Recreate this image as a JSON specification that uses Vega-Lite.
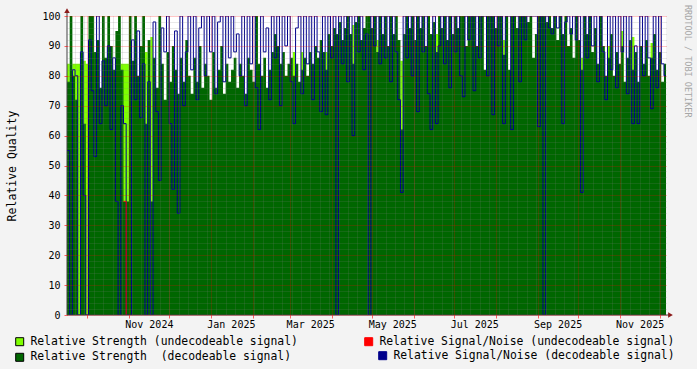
{
"$schema":"https://vega.github.io/schema/vega-lite/v6.json",
"width":599,"height":299,
"autosize":{"type":"none"},
"padding":{"left":67,"top":16,"right":31,"bottom":54},
"background":"#F3F3F3",
"config":{"view":{"fill":"#FFFFFF","stroke":null},"font":"DejaVu Sans Mono"},
"title":{"text":"RRDTOOL / TOBI OETIKER","orient":"right","anchor":"start","frame":"group","offset":4,"font":"DejaVu Sans Mono","fontSize":8.5,"fontWeight":"normal","color":"#A6A6A6","dx":-11},
"data":{"values":[
{"t":"2024-09-16","g":78,"u":84,"s":55},
{"t":"2024-09-18","g":100,"u":0,"s":0},
{"t":"2024-09-20","g":80,"u":84,"s":82},
{"t":"2024-09-22","g":72,"u":84,"s":80},
{"t":"2024-09-24","g":0,"u":84,"s":0},
{"t":"2024-09-26","g":100,"u":0,"s":88},
{"t":"2024-09-28","g":64,"u":85,"s":40},
{"t":"2024-09-30","g":0,"u":84,"s":0},
{"t":"2024-10-02","g":100,"u":0,"s":92},
{"t":"2024-10-04","g":100,"u":0,"s":75},
{"t":"2024-10-06","g":88,"u":0,"s":53},
{"t":"2024-10-08","g":92,"u":0,"s":100},
{"t":"2024-10-10","g":76,"u":0,"s":64},
{"t":"2024-10-12","g":100,"u":0,"s":85},
{"t":"2024-10-14","g":86,"u":0,"s":70},
{"t":"2024-10-16","g":100,"u":0,"s":90},
{"t":"2024-10-18","g":90,"u":0,"s":62},
{"t":"2024-10-20","g":82,"u":0,"s":86},
{"t":"2024-10-22","g":95,"u":0,"s":38},
{"t":"2024-10-24","g":100,"u":0,"s":0},
{"t":"2024-10-26","g":82,"u":84,"s":70},
{"t":"2024-10-28","g":38,"u":84,"s":64,"r":38},
{"t":"2024-10-30","g":38,"u":84,"s":0,"r":0},
{"t":"2024-11-01","g":100,"u":0,"s":0},
{"t":"2024-11-03","g":85,"u":0,"s":92},
{"t":"2024-11-05","g":100,"u":0,"s":72},
{"t":"2024-11-07","g":80,"u":0,"s":95},
{"t":"2024-11-09","g":90,"u":0,"s":66},
{"t":"2024-11-11","g":100,"u":0,"s":84},
{"t":"2024-11-13","g":64,"u":88,"s":0},
{"t":"2024-11-15","g":92,"u":0,"s":78},
{"t":"2024-11-17","g":38,"u":93,"s":0},
{"t":"2024-11-19","g":86,"u":0,"s":98},
{"t":"2024-11-21","g":76,"u":0,"s":68},
{"t":"2024-11-23","g":100,"u":0,"s":45},
{"t":"2024-11-25","g":84,"u":0,"s":96},
{"t":"2024-11-27","g":72,"u":0,"s":88},
{"t":"2024-11-29","g":88,"u":0,"s":100},
{"t":"2024-12-01","g":78,"u":0,"s":64},
{"t":"2024-12-03","g":90,"u":0,"s":42},
{"t":"2024-12-05","g":82,"u":0,"s":95},
{"t":"2024-12-07","g":74,"u":0,"s":34},
{"t":"2024-12-09","g":86,"u":0,"s":100},
{"t":"2024-12-11","g":78,"u":0,"s":70},
{"t":"2024-12-13","g":92,"u":0,"s":88},
{"t":"2024-12-15","g":80,"u":0,"s":100},
{"t":"2024-12-17","g":74,"u":0,"s":82},
{"t":"2024-12-19","g":86,"u":0,"s":100},
{"t":"2024-12-21","g":78,"u":0,"s":72},
{"t":"2024-12-23","g":90,"u":0,"s":96},
{"t":"2024-12-25","g":76,"u":0,"s":100},
{"t":"2024-12-27","g":84,"u":0,"s":80},
{"t":"2024-12-29","g":80,"u":0,"s":100},
{"t":"2024-12-31","g":72,"u":0,"s":88},
{"t":"2025-01-02","g":88,"u":0,"s":100},
{"t":"2025-01-04","g":76,"u":0,"s":74},
{"t":"2025-01-06","g":82,"u":0,"s":98},
{"t":"2025-01-08","g":90,"u":0,"s":100},
{"t":"2025-01-10","g":74,"u":0,"s":78},
{"t":"2025-01-12","g":84,"u":0,"s":100},
{"t":"2025-01-14","g":78,"u":0,"s":86},
{"t":"2025-01-16","g":82,"u":0,"s":100},
{"t":"2025-01-18","g":86,"u":0,"s":88},
{"t":"2025-01-20","g":76,"u":0,"s":94},
{"t":"2025-01-22","g":84,"u":0,"s":80},
{"t":"2025-01-24","g":80,"u":0,"s":100},
{"t":"2025-01-26","g":74,"u":0,"s":70},
{"t":"2025-01-28","g":86,"u":0,"s":100},
{"t":"2025-01-30","g":82,"u":0,"s":84},
{"t":"2025-02-01","g":78,"u":0,"s":100},
{"t":"2025-02-03","g":100,"u":0,"s":76},
{"t":"2025-02-05","g":84,"u":0,"s":62},
{"t":"2025-02-07","g":80,"u":0,"s":100},
{"t":"2025-02-09","g":86,"u":0,"s":88},
{"t":"2025-02-11","g":76,"u":0,"s":96},
{"t":"2025-02-13","g":82,"u":0,"s":72},
{"t":"2025-02-15","g":88,"u":0,"s":100},
{"t":"2025-02-17","g":94,"u":0,"s":86},
{"t":"2025-02-19","g":90,"u":0,"s":100},
{"t":"2025-02-21","g":84,"u":0,"s":70},
{"t":"2025-02-23","g":88,"u":0,"s":100},
{"t":"2025-02-25","g":80,"u":0,"s":90},
{"t":"2025-02-27","g":84,"u":0,"s":100},
{"t":"2025-03-01","g":86,"u":0,"s":78},
{"t":"2025-03-03","g":80,"u":88,"s":64},
{"t":"2025-03-05","g":84,"u":0,"s":96},
{"t":"2025-03-07","g":78,"u":0,"s":100},
{"t":"2025-03-09","g":82,"u":88,"s":74},
{"t":"2025-03-11","g":86,"u":0,"s":100},
{"t":"2025-03-13","g":80,"u":0,"s":84},
{"t":"2025-03-15","g":88,"u":0,"s":100},
{"t":"2025-03-17","g":84,"u":0,"s":72},
{"t":"2025-03-19","g":90,"u":0,"s":100},
{"t":"2025-03-21","g":86,"u":0,"s":88},
{"t":"2025-03-23","g":92,"u":0,"s":68},
{"t":"2025-03-25","g":88,"u":0,"s":100},
{"t":"2025-03-27","g":82,"u":88,"s":67},
{"t":"2025-03-29","g":94,"u":0,"s":100},
{"t":"2025-03-31","g":90,"u":0,"s":86},
{"t":"2025-04-02","g":96,"u":0,"s":100},
{"t":"2025-04-04","g":94,"u":0,"s":0},
{"t":"2025-04-06","g":98,"u":0,"s":100},
{"t":"2025-04-08","g":92,"u":0,"s":84},
{"t":"2025-04-10","g":96,"u":0,"s":100},
{"t":"2025-04-12","g":100,"u":0,"s":78},
{"t":"2025-04-14","g":94,"u":0,"s":100},
{"t":"2025-04-16","g":84,"u":97,"s":60},
{"t":"2025-04-18","g":98,"u":0,"s":100},
{"t":"2025-04-20","g":100,"u":0,"s":88},
{"t":"2025-04-22","g":92,"u":0,"s":100},
{"t":"2025-04-24","g":96,"u":0,"s":82},
{"t":"2025-04-26","g":100,"u":0,"s":94},
{"t":"2025-04-28","g":100,"u":0,"s":0},
{"t":"2025-04-30","g":96,"u":0,"s":100},
{"t":"2025-05-02","g":100,"u":0,"s":90},
{"t":"2025-05-04","g":88,"u":92,"s":100},
{"t":"2025-05-06","g":100,"u":0,"s":84},
{"t":"2025-05-08","g":94,"u":0,"s":100},
{"t":"2025-05-10","g":100,"u":0,"s":86},
{"t":"2025-05-12","g":90,"u":0,"s":100},
{"t":"2025-05-14","g":100,"u":0,"s":78},
{"t":"2025-05-16","g":94,"u":0,"s":100},
{"t":"2025-05-18","g":100,"u":0,"s":88},
{"t":"2025-05-20","g":92,"u":0,"s":72},
{"t":"2025-05-22","g":62,"u":85,"s":41},
{"t":"2025-05-24","g":94,"u":0,"s":100},
{"t":"2025-05-26","g":100,"u":0,"s":86},
{"t":"2025-05-28","g":96,"u":0,"s":100},
{"t":"2025-05-30","g":100,"u":0,"s":80},
{"t":"2025-06-01","g":92,"u":0,"s":100},
{"t":"2025-06-03","g":100,"u":0,"s":68},
{"t":"2025-06-05","g":96,"u":0,"s":100},
{"t":"2025-06-07","g":100,"u":0,"s":88},
{"t":"2025-06-09","g":90,"u":0,"s":100},
{"t":"2025-06-11","g":100,"u":0,"s":74},
{"t":"2025-06-13","g":94,"u":0,"s":62},
{"t":"2025-06-15","g":98,"u":0,"s":100},
{"t":"2025-06-17","g":88,"u":94,"s":64},
{"t":"2025-06-19","g":100,"u":0,"s":90},
{"t":"2025-06-21","g":96,"u":0,"s":100},
{"t":"2025-06-23","g":100,"u":0,"s":84},
{"t":"2025-06-25","g":92,"u":0,"s":100},
{"t":"2025-06-27","g":100,"u":0,"s":76},
{"t":"2025-06-29","g":94,"u":0,"s":100},
{"t":"2025-07-01","g":100,"u":0,"s":88},
{"t":"2025-07-03","g":96,"u":0,"s":100},
{"t":"2025-07-05","g":100,"u":0,"s":80},
{"t":"2025-07-07","g":100,"u":0,"s":73},
{"t":"2025-07-09","g":90,"u":0,"s":100},
{"t":"2025-07-11","g":100,"u":0,"s":92},
{"t":"2025-07-13","g":100,"u":0,"s":100},
{"t":"2025-07-15","g":100,"u":0,"s":75},
{"t":"2025-07-17","g":90,"u":0,"s":100},
{"t":"2025-07-19","g":100,"u":0,"s":86},
{"t":"2025-07-21","g":100,"u":0,"s":100},
{"t":"2025-07-23","g":82,"u":0,"s":100},
{"t":"2025-07-25","g":100,"u":0,"s":80},
{"t":"2025-07-27","g":100,"u":0,"s":100},
{"t":"2025-07-29","g":100,"u":0,"s":67},
{"t":"2025-07-31","g":96,"u":0,"s":100},
{"t":"2025-08-02","g":100,"u":0,"s":90},
{"t":"2025-08-04","g":100,"u":0,"s":100},
{"t":"2025-08-06","g":87,"u":92,"s":64},
{"t":"2025-08-08","g":100,"u":0,"s":100},
{"t":"2025-08-10","g":82,"u":0,"s":100},
{"t":"2025-08-12","g":100,"u":0,"s":62},
{"t":"2025-08-14","g":100,"u":0,"s":100},
{"t":"2025-08-16","g":96,"u":0,"s":100},
{"t":"2025-08-18","g":100,"u":0,"s":78},
{"t":"2025-08-20","g":100,"u":0,"s":100},
{"t":"2025-08-22","g":100,"u":0,"s":92},
{"t":"2025-08-24","g":98,"u":0,"s":100},
{"t":"2025-08-26","g":100,"u":0,"s":100},
{"t":"2025-08-28","g":86,"u":0,"s":100},
{"t":"2025-08-30","g":94,"u":0,"s":100},
{"t":"2025-09-01","g":100,"u":0,"s":63},
{"t":"2025-09-03","g":100,"u":0,"s":100},
{"t":"2025-09-05","g":100,"u":0,"s":0},
{"t":"2025-09-07","g":98,"u":0,"s":100},
{"t":"2025-09-09","g":100,"u":0,"s":96},
{"t":"2025-09-11","g":96,"u":0,"s":94},
{"t":"2025-09-13","g":100,"u":0,"s":100},
{"t":"2025-09-15","g":92,"u":0,"s":96},
{"t":"2025-09-17","g":100,"u":0,"s":100},
{"t":"2025-09-19","g":94,"u":0,"s":64},
{"t":"2025-09-21","g":100,"u":0,"s":98},
{"t":"2025-09-23","g":90,"u":0,"s":100},
{"t":"2025-09-25","g":96,"u":0,"s":94},
{"t":"2025-09-27","g":86,"u":0,"s":100},
{"t":"2025-09-29","g":100,"u":0,"s":92},
{"t":"2025-10-01","g":92,"u":0,"s":100},
{"t":"2025-10-03","g":82,"u":86,"s":41},
{"t":"2025-10-05","g":100,"u":0,"s":100},
{"t":"2025-10-07","g":94,"u":0,"s":86},
{"t":"2025-10-09","g":100,"u":0,"s":100},
{"t":"2025-10-11","g":88,"u":0,"s":90},
{"t":"2025-10-13","g":96,"u":0,"s":100},
{"t":"2025-10-15","g":84,"u":0,"s":78},
{"t":"2025-10-17","g":100,"u":0,"s":100},
{"t":"2025-10-19","g":90,"u":0,"s":88},
{"t":"2025-10-21","g":80,"u":0,"s":72},
{"t":"2025-10-23","g":86,"u":90,"s":100},
{"t":"2025-10-25","g":94,"u":0,"s":82},
{"t":"2025-10-27","g":80,"u":0,"s":100},
{"t":"2025-10-29","g":88,"u":0,"s":76},
{"t":"2025-10-31","g":84,"u":0,"s":100},
{"t":"2025-11-02","g":90,"u":95,"s":88},
{"t":"2025-11-04","g":78,"u":0,"s":100},
{"t":"2025-11-06","g":86,"u":0,"s":74},
{"t":"2025-11-08","g":92,"u":0,"s":100},
{"t":"2025-11-10","g":82,"u":93,"s":64},
{"t":"2025-11-12","g":88,"u":0,"s":90},
{"t":"2025-11-14","g":78,"u":0,"s":64},
{"t":"2025-11-16","g":90,"u":0,"s":100},
{"t":"2025-11-18","g":84,"u":0,"s":80},
{"t":"2025-11-20","g":92,"u":0,"s":100},
{"t":"2025-11-22","g":80,"u":0,"s":86},
{"t":"2025-11-24","g":86,"u":91,"s":69},
{"t":"2025-11-26","g":94,"u":0,"s":100},
{"t":"2025-11-28","g":82,"u":0,"s":76},
{"t":"2025-11-30","g":88,"u":0,"s":100},
{"t":"2025-12-02","g":78,"u":0,"s":84},
{"t":"2025-12-04","g":84,"u":0,"s":80},
{"t":"2025-12-06","g":84,"u":0,"s":80}
]},
"layer":[
{"mark":{"type":"area","interpolate":"step-after","clip":true},
 "encoding":{
  "x":{"field":"t","type":"temporal",
       "scale":{"type":"utc","domain":[{"year":2024,"month":9,"date":16,"utc":true},{"year":2025,"month":12,"date":5,"hours":12,"utc":true}]},
       "axis":{"orient":"bottom","title":null,"tickCount":{"interval":"month","step":1},
               "labelExpr":"utcmonth(datum.value) % 2 == 0 ? utcFormat(datum.value, '%b %Y') : ''",
               "labelOffset":20,"labelFont":"DejaVu Sans Mono","labelFontSize":10,"labelColor":"#000000",
               "labelPadding":1,"labelOverlap":false,"labelFlush":false,"labelBound":false,
               "tickSize":3,"tickColor":"#FF0000","tickOpacity":0.6,
               "grid":true,"gridColor":"#FF0000","gridOpacity":0.45,"gridDash":[1,1],
               "domain":false,"zindex":1}},
  "y":{"field":"u","type":"quantitative","scale":{"domain":[0,100],"nice":false},
       "axis":{"orient":"left","values":[0,10,20,30,40,50,60,70,80,90,100],
               "title":"Relative Quality","titleFont":"DejaVu Sans Mono","titleFontSize":11.5,"titleFontWeight":"normal","titleColor":"#000000","titlePadding":24,
               "labelFont":"DejaVu Sans Mono","labelFontSize":10,"labelColor":"#000000","labelPadding":4,"labelOverlap":false,
               "tickSize":3,"tickColor":"#FF0000","tickOpacity":0.6,
               "grid":true,"gridColor":"#FF0000","gridOpacity":0.45,"gridDash":[1,1],"domain":false,"zindex":1}},
  "fill":{"datum":"Relative Strength (undecodeable signal)",
          "scale":{"domain":["Relative Strength (undecodeable signal)","Relative Strength \u00a0(decodeable signal)"],"range":["#7FFF00","#006600"]},
          "legend":{"orient":"none","legendX":-53,"legendY":320,"direction":"vertical","title":null,
                    "symbolType":"square","symbolSize":64,"labelFont":"DejaVu Sans Mono","labelFontSize":11.4,"labelColor":"#000000",
                    "labelLimit":400,"labelOffset":5,"rowPadding":2.6,"padding":0,
                    "encode":{"symbols":{"update":{"stroke":{"value":"#000000"},"strokeWidth":{"value":1},"opacity":{"value":1}}}}}}
 }},
{"mark":{"type":"area","interpolate":"step-after","clip":true},
 "encoding":{
  "x":{"field":"t","type":"temporal",
       "axis":{"orient":"bottom","title":null,"tickCount":{"interval":"week","step":1},"labels":false,"ticks":false,"domain":false,
               "grid":true,"gridColor":"#808080","gridOpacity":0.35,"gridDash":[1,1],"zindex":1}},
  "y":{"field":"g","type":"quantitative",
       "axis":{"orient":"left","values":[2,4,6,8,12,14,16,18,22,24,26,28,32,34,36,38,42,44,46,48,52,54,56,58,62,64,66,68,72,74,76,78,82,84,86,88,92,94,96,98],
               "title":null,"labels":false,"ticks":false,"domain":false,
               "grid":true,"gridColor":"#808080","gridOpacity":0.35,"gridDash":[1,1],"zindex":1}},
  "fill":{"datum":"Relative Strength \u00a0(decodeable signal)"}
 }},
{"mark":{"type":"line","interpolate":"step-after","clip":true,"strokeWidth":1},
 "encoding":{
  "x":{"field":"t","type":"temporal","axis":null},
  "y":{"field":"s","type":"quantitative","axis":null},
  "color":{"datum":"Relative Signal/Noise (decodeable signal)",
           "scale":{"domain":["Relative Signal/Noise (decodeable signal)"],"range":["#00008C"]},
           "legend":{"orient":"none","legendX":310,"legendY":334,"title":null,
                     "symbolType":"square","symbolSize":64,"labelFont":"DejaVu Sans Mono","labelFontSize":11.4,"labelColor":"#000000",
                     "labelLimit":400,"labelOffset":5,"padding":0,
                     "encode":{"symbols":{"update":{"fill":{"value":"#00008C"},"stroke":{"value":"#000000"},"strokeWidth":{"value":1},"opacity":{"value":1}}}}}}
 }},
{"transform":[{"filter":"isValid(datum.r)"}],
 "mark":{"type":"line","interpolate":"step-after","clip":true,"strokeWidth":1},
 "encoding":{
  "x":{"field":"t","type":"temporal","axis":null},
  "y":{"field":"r","type":"quantitative","axis":null},
  "stroke":{"datum":"Relative Signal/Noise (undecodeable signal)",
           "scale":{"domain":["Relative Signal/Noise (undecodeable signal)"],"range":["#FF0000"]},
           "legend":{"orient":"none","legendX":296,"legendY":320,"title":null,
                     "symbolType":"square","symbolSize":64,"labelFont":"DejaVu Sans Mono","labelFontSize":11.4,"labelColor":"#000000",
                     "labelLimit":400,"labelOffset":5,"padding":0,
                     "encode":{"symbols":{"update":{"fill":{"value":"#FF0000"},"stroke":{"value":"#000000"},"strokeWidth":{"value":1},"opacity":{"value":1}}}}}}
 }},
{"data":{"values":[{}]},
 "mark":{"type":"rule","color":"#404040","strokeWidth":1},
 "encoding":{
  "x":{"datum":{"year":2024,"month":9,"date":16,"utc":true},"type":"temporal","axis":null},
  "y":{"datum":0,"type":"quantitative","axis":null},
  "y2":{"datum":102}
 }},
{"data":{"values":[{}]},
 "mark":{"type":"rule","color":"#404040","strokeWidth":1},
 "encoding":{
  "x":{"datum":{"year":2024,"month":9,"date":16,"utc":true},"type":"temporal","axis":null},
  "x2":{"datum":{"year":2025,"month":12,"date":8,"hours":12,"utc":true}},
  "y":{"datum":0,"type":"quantitative","axis":null}
 }},
{"data":{"values":[{}]},
 "mark":{"type":"point","shape":"triangle-up","filled":true,"size":30,"color":"#8B1A1A","opacity":1},
 "encoding":{
  "x":{"datum":{"year":2024,"month":9,"date":16,"utc":true},"type":"temporal","axis":null},
  "y":{"datum":101.8,"type":"quantitative","axis":null}
 }},
{"data":{"values":[{}]},
 "mark":{"type":"point","shape":"triangle-right","filled":true,"size":30,"color":"#8B1A1A","opacity":1},
 "encoding":{
  "x":{"datum":{"year":2025,"month":12,"date":8,"hours":20,"utc":true},"type":"temporal","axis":null},
  "y":{"datum":0,"type":"quantitative","axis":null}
 }}
],
"resolve":{"axis":{"x":"independent","y":"independent"}}
}
